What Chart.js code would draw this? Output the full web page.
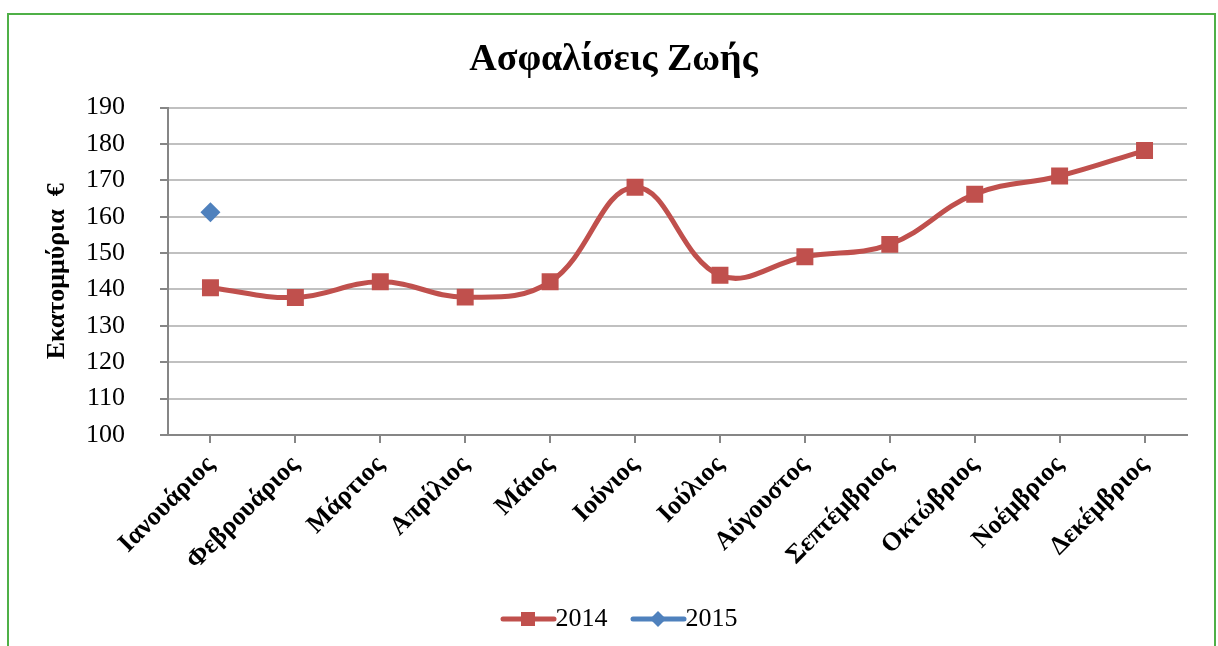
<!DOCTYPE html>
<html>
<head>
<meta charset="utf-8">
<title>Ασφαλίσεις Ζωής</title>
<script src="https://cdn.jsdelivr.net/npm/chart.js@4/dist/chart.umd.min.js"></script>
<style>
    html, body { margin: 0; padding: 0; background: #fff; }
    #frame {
        position: absolute; left: 7px; top: 13px;
        width: 1205px; height: 640px;
        border: 2px solid #4fb047; border-bottom: none;
    }
    #wrap { position: absolute; left: 0; top: 0; width: 1218px; height: 646px; }
</style>
</head>
<body>
<div id="frame"></div>
<div id="wrap"><canvas id="chart"></canvas></div>
<script>
// Data
const months = ['Ιανουάριος', 'Φεβρουάριος', 'Μάρτιος', 'Απρίλιος', 'Μάιος', 'Ιούνιος',
                'Ιούλιος', 'Αύγουστος', 'Σεπτέμβριος', 'Οκτώβριος', 'Νοέμβριος', 'Δεκέμβριος'];
const values2014 = [140.5, 137.8, 142.1, 137.9, 142.1, 168.1, 143.9, 149.0, 152.4, 166.2, 171.2, 178.2];
const values2015 = [161.2, null, null, null, null, null, null, null, null, null, null, null];
const yMin = 100, yMax = 190, yStep = 10;

const RED = '#c0504d';
const BLUE = '#4f81bd';
const SERIF = "'Liberation Serif', 'Times New Roman', serif";

// Legend symbol: a short line with the marker in the middle (like Excel).
// The canvas is wider than the legend box, with a transparent left margin,
// so the line ends right next to the label text.
function legendSymbol(color, shape) {
    const c = document.createElement('canvas');
    c.width = 90; c.height = 20;
    const g = c.getContext('2d');
    g.strokeStyle = color;
    g.lineWidth = 5;
    g.lineCap = 'round';
    g.beginPath();
    g.moveTo(32, 10); g.lineTo(83, 10);
    g.stroke();
    g.fillStyle = color;
    const cx = 57;
    if (shape === 'square') {
        g.fillRect(cx - 7, 10 - 7, 14, 14);
    } else {
        g.beginPath();
        g.moveTo(cx, 2); g.lineTo(cx + 8, 10); g.lineTo(cx, 18); g.lineTo(cx - 8, 10);
        g.closePath();
        g.fill();
    }
    return c;
}
const symbols = [legendSymbol(RED, 'square'), legendSymbol(BLUE, 'diamond')];

const ctx = document.getElementById('chart').getContext('2d');
new Chart(ctx, {
    type: 'line',
    data: {
        labels: months,
        datasets: [{
            label: '2014',
            data: values2014,
            borderColor: RED,
            backgroundColor: RED,
            borderWidth: 5,
            tension: 0.4,
            pointStyle: 'rect',
            pointRadius: 12,
            pointBorderWidth: 0,
            pointBackgroundColor: RED
        }, {
            label: '2015',
            data: values2015,
            borderColor: BLUE,
            backgroundColor: BLUE,
            borderWidth: 5,
            tension: 0.4,
            pointStyle: 'rectRot',
            pointRadius: 10,
            pointBorderWidth: 0,
            pointBackgroundColor: BLUE
        }]
    },
    options: {
        responsive: true,
        maintainAspectRatio: false,
        animation: false,
        layout: { padding: { left: 40, right: 31, top: 0, bottom: 4 } },
        plugins: {
            title: {
                display: true,
                text: 'Ασφαλίσεις Ζωής',
                color: '#000',
                font: { family: SERIF, size: 38, weight: 'bold', lineHeight: 1.2 },
                padding: { top: 37, bottom: 25 }
            },
            legend: {
                position: 'bottom',
                labels: {
                    usePointStyle: true,
                    pointStyleWidth: 53,
                    color: '#000',
                    font: { family: SERIF, size: 26 },
                    padding: 12,
                    generateLabels: function(chart) {
                        const items = Chart.defaults.plugins.legend.labels.generateLabels(chart);
                        items.forEach((it, i) => { it.pointStyle = symbols[i]; });
                        return items;
                    }
                }
            },
            tooltip: { enabled: false }
        },
        scales: {
            x: {
                offset: true,
                grid: {
                    drawOnChartArea: false,
                    drawTicks: true,
                    tickLength: 8,
                    tickColor: '#868686',
                    lineWidth: 2
                },
                border: { color: '#868686', width: 2 },
                ticks: {
                    color: '#000',
                    minRotation: 45,
                    maxRotation: 45,
                    autoSkip: false,
                    padding: 7,
                    font: { family: SERIF, size: 26, weight: 'bold' }
                },
                afterFit: function(scale) { scale.height = 159; }
            },
            y: {
                min: yMin,
                max: yMax,
                ticks: {
                    stepSize: yStep,
                    color: '#000',
                    padding: 35,
                    font: { family: SERIF, size: 26 }
                },
                grid: {
                    color: '#c0c0c0',
                    lineWidth: 2,
                    tickColor: '#868686',
                    tickLength: 8
                },
                border: { color: '#868686', width: 2 },
                title: {
                    display: true,
                    text: 'Εκατομμύρια  €',
                    color: '#000',
                    font: { family: SERIF, size: 26, weight: 'bold', lineHeight: 1.2 },
                    padding: { top: 2, bottom: 0 }
                },
                afterFit: function(scale) { scale.width = 128; }
            }
        }
    }
});
</script>
</body>
</html>
